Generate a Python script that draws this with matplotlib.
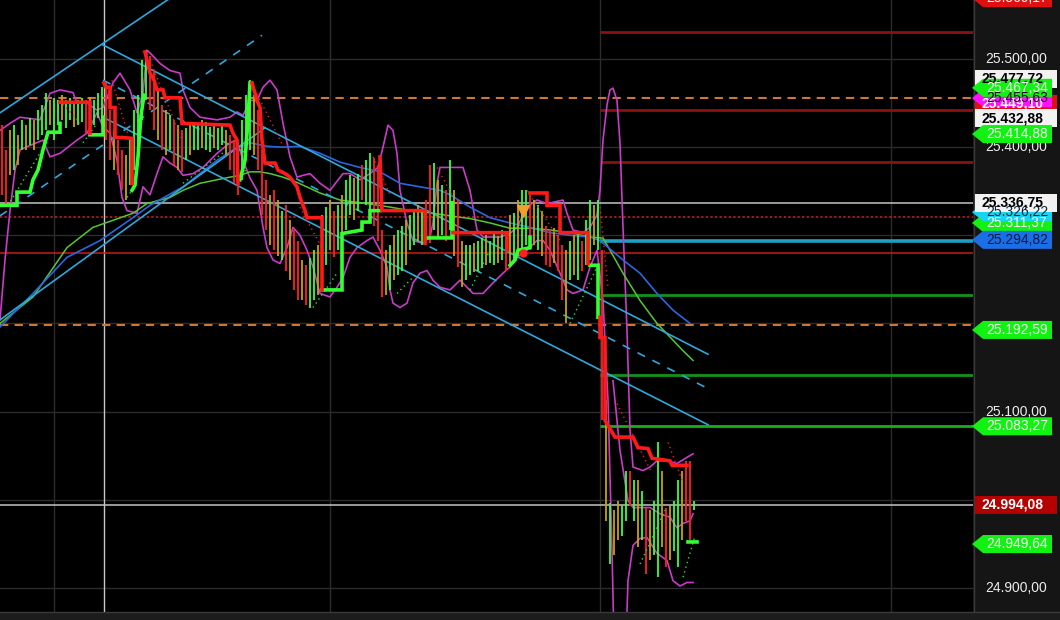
import matplotlib
matplotlib.use("Agg")
import matplotlib.pyplot as plt
import numpy as np
from matplotlib.patches import Polygon, Rectangle

# ---------------- DATA ----------------
# bars: one every 4 minutes, t = 4*i
bar_high = [25425,25397,25419,25425,25414,25431,25425,25433,25431,25442,
            25448,25461,25453,25456,25453,25459,25453,25456,25451,25453,
            25456,25453,25457,25453,25462,25468,25473,25442,25419,25408,
            25397,25391,25408,25442,25459,25499,25510,25504,25487,25465,
            25448,25442,25436,25431,25425,25419,25422,25425,25427,25425,
            25431,25428,25423,25425,25422,25425,25419,25414,25408,25397,
            25431,25459,25476,25459,25442,25397,25363,25346,25351,25340,
            25328,25334,25317,25306,25294,25272,25266,25274,25283,25289,
            25323,25332,25340,25328,25334,25346,25363,25368,25365,25370,
            25380,25385,25393,25388,25380,25306,25283,25289,25300,25306,
            25311,25317,25323,25328,25334,25328,25340,25380,25382,25363,
            25357,25351,25385,25351,25340,25294,25289,25289,25291,25294,
            25297,25300,25294,25302,25299,25306,25302,25323,25325,25340,
            25351,25351,25346,25340,25334,25328,25311,25306,25308,25300,
            25289,25283,25294,25300,25302,25294,25317,25340,25334,25340,
            25283,25113,24996,24988,24999,24993,25033,25033,25022,25022,
            25010,24991,24988,24999,25065,25033,24991,24993,24999,25022,
            25033,25044,25044,24999]
bar_low = [25346,25334,25368,25374,25380,25397,25397,25402,25397,25408,
           25414,25419,25425,25408,25425,25431,25422,25431,25423,25425,
           25428,25416,25431,25425,25433,25425,25408,25385,25374,25368,
           25351,25340,25357,25374,25397,25431,25453,25442,25419,25408,
           25397,25391,25397,25380,25374,25372,25385,25391,25397,25397,
           25399,25397,25394,25399,25397,25402,25391,25374,25359,25346,
           25363,25385,25397,25391,25374,25323,25306,25289,25283,25277,
           25272,25260,25249,25238,25226,25226,25221,25218,25226,25232,
           25255,25266,25283,25275,25283,25289,25306,25323,25317,25328,
           25340,25334,25328,25311,25294,25230,25232,25238,25249,25255,
           25260,25266,25283,25289,25294,25289,25294,25291,25306,25298,
           25300,25294,25306,25277,25264,25241,25249,25255,25258,25260,
           25263,25266,25269,25266,25269,25272,25260,25266,25272,25277,
           25283,25289,25283,25289,25283,25277,25266,25264,25269,25260,
           25226,25200,25249,25255,25249,25260,25266,25272,25289,25283,
           25090,24976,24927,24937,24954,24959,24976,24993,24976,24946,
           24954,24916,24931,24937,24912,24946,24923,24931,24942,24923,
           24954,24976,24954,24988]
bar_kind = list("rrogogogog" "ggoggoggog" "grogggrror" "rogggggrro"
                "rogrorgogg" "oggoggorrr" "gggorrroro" "grorrorggo"
                "ggorgoggog" "rggrrrogog" "goggogrrgo" "grgoroggog"
                "goggogrogo" "ggrogorror" "rogogrggog" "rogooggrgo"
                "groggorogg" "orrg")

# stepped trailing stop (red above price, green below); nan separates pieces
st_red_t = [58, 88, 88, np.nan,
            102, 104, 108, 108, 113, 113, 120, 130, 130, np.nan,
            143, 148, 152, 155, 161, 163, 178, 180, 228, 231, 235, 236, np.nan,
            250, 255, 258, 260, 263, 273, 276, 283, 288, 295, 298, 303, 305, 320, 320, np.nan,
            378, 380, 423, 423, np.nan,
            451, 505, 505, np.nan,
            528, 545, 545, 558, 558, 586, 586, np.nan,
            598, 598, 603, 603, 613, 631, 636, 646, 650, 668, 670, 685]
st_red_p = [25451, 25451, 25416, np.nan,
            25473, 25468, 25468, 25445, 25445, 25411, 25411, 25410, 25359, np.nan,
            25508, 25484, 25476, 25465, 25465, 25456, 25456, 25427, 25425, 25416, 25408, 25359, np.nan,
            25473, 25453, 25445, 25408, 25382, 25382, 25374, 25370, 25366, 25355, 25343, 25328, 25320, 25320, 25238, np.nan,
            25389, 25328, 25328, 25291, np.nan,
            25303, 25303, 25283, np.nan,
            25348, 25348, 25334, 25334, 25303, 25303, 25268, np.nan,
            25207, 25184, 25184, 25090, 25071, 25071, 25059, 25058, 25047, 25044, 25039, 25039]
st_green_t = [-2, 15, 15, 28, 31, 36, 41, 46, 58, 58, np.nan,
              88, 101, 101, np.nan,
              130, 133, 136, 139, 142, np.nan,
              238, 243, 246, 248, np.nan,
              320, 340, 340, 360, 360, 368, 368, 378, np.nan,
              426, 450, 450, np.nan,
              508, 513, 516, 528, 528, np.nan,
              588, 596, 596, np.nan,
              686, 695]
st_green_p = [25334, 25334, 25349, 25349, 25363, 25374, 25397, 25417, 25417, 25427, np.nan,
              25414, 25414, 25434, np.nan,
              25351, 25357, 25389, 25436, 25459, np.nan,
              25363, 25385, 25431, 25473, np.nan,
              25238, 25238, 25302, 25306, 25315, 25315, 25328, 25328, np.nan,
              25297, 25297, 25337, np.nan,
              25266, 25272, 25283, 25286, 25298, np.nan,
              25266, 25266, 25207, np.nan,
              24952, 24952]

# envelope bands
band_up_t = [-2, 8, 18, 38, 48, 58, 71, 75, 85, 95, 101, 111, 118, 128, 135, 141, 145, 148, 158, 168,
             178, 181, 188, 198, 215, 228, 235, 241, 248, 255, 261, 268, 275, 281, 288, 295, 301, 308,
             318, 328, 341, 348, 358, 368, 376, 381, 386, 391, 395, 398, 405, 411, 421, 428, 431, 435,
             438, 461, 468, 475, 481, 498, 508, 515, 525, 535, 545, 561, 565, 571, 581, 588, 595, 598,
             601, 605, 608, 611, 615, 618, 621, 625, 628, 631, 641, 648, 655, 665, 675, 685, 691]
band_up_p = [25419, 25427, 25434, 25431, 25461, 25465, 25462, 25450, 25450, 25442, 25445, 25473, 25484,
             25465, 25439, 25461, 25510, 25507, 25495, 25487, 25484, 25465, 25445, 25434, 25431, 25434,
             25440, 25436, 25453, 25453, 25468, 25476, 25465, 25427, 25389, 25366, 25368, 25370, 25359,
             25351, 25370, 25370, 25363, 25370, 25377, 25400, 25425, 25419, 25393, 25351, 25314, 25294,
             25291, 25298, 25314, 25359, 25377, 25377, 25351, 25306, 25298, 25298, 25302, 25309, 25332,
             25340, 25336, 25340, 25325, 25306, 25303, 25309, 25323, 25351, 25408, 25448, 25465, 25467,
             25453, 25405, 25309, 25192, 25079, 25037, 25033, 25037, 25044, 25044, 25041, 25048, 25052]
band_lo_t = [-2, 3, 8, 13, 18, 28, 41, 48, 58, 75, 85, 95, 101, 108, 115, 120, 125, 135, 141, 148, 155,
             161, 168, 175, 181, 191, 201, 215, 228, 235, 241, 248, 255, 261, 265, 271, 278, 285, 291,
             298, 305, 311, 318, 328, 335, 341, 348, 355, 365, 371, 378, 385, 388, 391, 398, 405, 411,
             418, 425, 431, 438, 448, 458, 465, 471, 481, 491, 501, 508, 515, 525, 535, 541, 548, 558,
             565, 571, 581, 588, 595, 601, 606, 610, 612, 624, 626, 631, 638, 645, 655, 665, 671, 678,
             685, 691]
band_lo_p = [25204, 25272, 25328, 25374, 25397, 25402, 25408, 25389, 25393, 25408, 25416, 25439, 25423,
             25416, 25385, 25343, 25328, 25325, 25355, 25346, 25370, 25389, 25382, 25377, 25368, 25370,
             25377, 25393, 25405, 25408, 25385, 25365, 25351, 25309, 25286, 25272, 25268, 25286, 25309,
             25300, 25283, 25264, 25234, 25230, 25241, 25252, 25275, 25286, 25294, 25298, 25283, 25264,
             25238, 25223, 25218, 25223, 25246, 25257, 25260, 25249, 25241, 25238, 25249, 25241, 25234,
             25234, 25246, 25257, 25264, 25275, 25283, 25294, 25294, 25283, 25257, 25238, 25234, 25238,
             25264, 25283, 25226, 25113, 24942, 24840, 24840, 24908, 24948, 24956, 24957, 24939, 24931,
             24908, 24902, 24906, 24906]
band_mid_t = [611, 618, 626, 631, 648, 658, 668, 675, 681, 688, 691]
band_mid_p = [25135, 25056, 24999, 24991, 24991, 24984, 24980, 24968, 24973, 24976, 24984]

# moving averages
ma_green_t = [-2, 31, 65, 91, 111, 131, 145, 168, 181, 198, 215, 228, 238, 248, 258, 268, 281, 295,
              318, 338, 365, 388, 408, 431, 448, 468, 488, 508, 528, 548, 568, 588, 598, 601, 608,
              621, 638, 655, 671, 681, 691]
ma_green_p = [25200, 25230, 25286, 25309, 25317, 25325, 25336, 25343, 25351, 25359, 25363, 25366, 25368,
              25372, 25372, 25370, 25366, 25360, 25348, 25340, 25336, 25332, 25328, 25325, 25322, 25319,
              25314, 25308, 25308, 25306, 25303, 25298, 25297, 25297, 25283, 25257, 25226, 25200, 25181,
              25169, 25158]
ma_blue_t = [-2, 31, 65, 98, 131, 148, 181, 198, 215, 231, 248, 265, 281, 298, 318, 338, 358, 378, 398,
             418, 438, 448, 468, 488, 508, 528, 548, 568, 588, 598, 621, 638, 655, 671, 688]
ma_blue_p = [25196, 25234, 25275, 25294, 25320, 25334, 25355, 25370, 25385, 25397, 25405, 25401, 25400,
             25401, 25393, 25383, 25377, 25372, 25359, 25355, 25351, 25346, 25332, 25320, 25314, 25309,
             25303, 25300, 25298, 25294, 25272, 25257, 25234, 25215, 25200]

# trailing dot runs (start/end)
sar_green_t0 = [6, 81, 125, 181, 238, 311, 395, 468, 568, 638, 681]
sar_green_p0 = [25334, 25405, 25343, 25359, 25363, 25218, 25234, 25238, 25200, 24927, 24912]
sar_green_t1 = [46, 95, 135, 225, 245, 335, 415, 488, 595, 663, 693]
sar_green_p1 = [25408, 25427, 25359, 25397, 25377, 25257, 25257, 25283, 25264, 24988, 24959]
sar_red_t0 = [58, 110, 148, 253, 298, 371, 435, 525, 598, 615, 666]
sar_red_p0 = [25453, 25476, 25499, 25465, 25332, 25389, 25377, 25351, 25332, 25109, 25065]
sar_red_t1 = [78, 126, 181, 283, 321, 388, 450, 558, 606, 650, 680]
sar_red_p1 = [25427, 25414, 25405, 25397, 25283, 25346, 25346, 25294, 25241, 25030, 25022]

# channel / trend lines
trend_t0 = [-2, -2, -2, 101, 101, 101]
trend_p0 = [25439, 25204, 25322, 25516, 25434, 25476]
trend_t1 = [168, 263, 260, 706, 706, 706]
trend_p1 = [25569, 25422, 25527, 25165, 25085, 25126]
trend_dashed = [False, False, True, False, False, True]

# horizontal levels
full_levels = [25456.0, 25336.75, 25321.0, 25280.0, 25197.8, 24994.08]
full_colors = ["#c9773a", "#c4c4c4", "#d42020", "#cc1a1a", "#c9773a", "#c4c4c4"]
full_styles = ["dash", "solid", "dot", "solid", "dash", "solid"]
part_levels = [25531.0, 25442.0, 25383.0, 25293.0, 25232.0, 25141.0, 25083.27]
part_colors = ["#8c1010", "#8c1010", "#8c1010", "#1e9fc4", "#12921a", "#12921a", "#12b21a"]
part_start = 598

grid_prices = [25500, 25400, 25300, 25200, 25100, 25000, 24900]
grid_times = [52, 328, 598, 889]
cursor_time = 102

signal_t = 521
signal_down_p = 25327
signal_dot_p = 25280

# price-axis tags: price, text, fill, text colour, shape, bold
tag_price = [25569.2, 25477.72, 25449.0, 25455.7, 25467.34, 25432.88, 25414.88, 25314.0,
             25326.22, 25336.75, 25294.82, 25192.59, 25083.27, 24994.08, 24949.64]
tag_text = ["25.569,17", "25.477,72", "25.449,10", "25.455,63", "25.467,34", "25.432,88", "25.414,88",
            "25.311,37", "25.326,22", "25.336,75", "25.294,82", "25.192,59", "25.083,27", "24.994,08",
            "24.949,64"]
tag_fill = ["#e01010", "#f2f2f2", "#e01010", "#ff10ff", "#12f212", "#f2f2f2", "#12f212", "#12f212",
            "#18d4f0", "#f2f2f2", "#1a6fe6", "#12f212", "#12f212", "#b40000", "#12f212"]
tag_tc = ["#ffffff", "#000000", "#ffffff", "#300030", "#f4fff4", "#000000", "#f4fff4", "#f4fff4",
          "#0a2a40", "#000000", "#071a45", "#f4fff4", "#f4fff4", "#ffffff", "#f4fff4"]
tag_arrow = [True, False, False, True, True, False, True, True, True, False, True, True, True, False, True]
tag_bold = [False, True, True, False, False, True, False, False, False, True, False, False, False, True, False]
# scale labels that are visible (the others sit under the tags)
axis_ticks = [25500, 25400, 25100, 24900]
axis_tick_text = ["25.500,00", "25.400,00", "25.100,00", "24.900,00"]

# ---------------- DRAW ----------------
plt.rcParams['font.family'] = ['Liberation Sans', 'DejaVu Sans']
W, H = 1060, 620
fig = plt.figure(figsize=(W / 100, H / 100), dpi=100, facecolor="#000000")
YMIN, YMAX = 24872.5, 25567.0
ax = fig.add_axes([0, 8 / H, 973 / W, 612 / H])
ax.set_facecolor("#000000")
ax.set_xlim(-2, 971)
ax.set_ylim(YMIN, YMAX)
ax.set_xticks([]); ax.set_yticks([])
for s in ax.spines.values():
    s.set_visible(False)

for p in grid_prices:
    ax.axhline(p, color="#2c2c2c", lw=1.0, zorder=0)
for t in grid_times:
    ax.axvline(t, color="#2c2c2c", lw=1.0, zorder=0)
ax.axvline(cursor_time, color="#c8c8c8", lw=1.0, zorder=1)

style_map = {"solid": "-", "dash": (0, (4, 3)), "dot": (0, (1.5, 1.5))}
for p, c, st in zip(full_levels, full_colors, full_styles):
    ax.axhline(p, color=c, lw=1.5 if st == "dash" else 1.1, linestyle=style_map[st], zorder=2)
for p, c in zip(part_levels, part_colors):
    lw = 2.6 if c == "#1e9fc4" else 2.0
    ax.hlines(p, part_start, 971, colors=c, lw=lw, zorder=2)

# magenta bands
ax.plot(band_up_t, band_up_p, color="#c83cc8", lw=1.2, zorder=3)
ax.plot(band_lo_t, band_lo_p, color="#c83cc8", lw=1.2, zorder=3)
ax.plot(band_mid_t, band_mid_p, color="#c83cc8", lw=1.2, zorder=3)

# moving averages
ax.plot(ma_green_t, ma_green_p, color="#52c832", lw=1.1, zorder=3)
ax.plot(ma_blue_t, ma_blue_p, color="#2a66e0", lw=1.2, zorder=3)

# trend lines
for t0, p0, t1, p1, d in zip(trend_t0, trend_p0, trend_t1, trend_p1, trend_dashed):
    ax.plot([t0, t1], [p0, p1], color="#2ea8dc", lw=1.2,
            linestyle=(0, (5, 5)) if d else "-", zorder=3)

# bars
kind_col = {"g": "#3cff3c", "o": "#c8a400", "r": "#ff2222"}
bar_t = np.arange(len(bar_high)) * 4
ax.vlines(bar_t, bar_low, bar_high, colors=[kind_col[k] for k in bar_kind], lw=1.3, zorder=4)

# trailing dots
for t0, p0, t1, p1 in zip(sar_green_t0, sar_green_p0, sar_green_t1, sar_green_p1):
    ax.plot([t0, t1], [p0, p1], color="#33dd33", lw=1.0, linestyle=(0, (1, 2.5)), zorder=5)
for t0, p0, t1, p1 in zip(sar_red_t0, sar_red_p0, sar_red_t1, sar_red_p1):
    ax.plot([t0, t1], [p0, p1], color="#dd2222", lw=1.0, linestyle=(0, (1, 2.5)), zorder=5)

# stepped stop line
ax.plot(st_green_t, st_green_p, color="#33ff33", lw=2.6, zorder=6, solid_joinstyle="miter")
ax.plot(st_red_t, st_red_p, color="#ff1a1a", lw=2.6, zorder=6, solid_joinstyle="miter")

ax.plot([signal_t], [signal_down_p], marker="v", ms=9, color="#f0a030", zorder=7)
ax.plot([signal_t], [signal_dot_p], marker="o", ms=5, color="#ff2020", zorder=7)

# ---------- right price axis ----------
ax2 = fig.add_axes([973 / W, 8 / H, 87 / W, 612 / H])
ax2.set_facecolor("#151515")
ax2.set_xlim(973, 1060)
ax2.set_ylim(YMIN, YMAX)
ax2.set_xticks([]); ax2.set_yticks([])
for s in ax2.spines.values():
    s.set_visible(False)
ax2.axvline(973.5, color="#3a3a3a", lw=1.0)

for p, txt in zip(axis_ticks, axis_tick_text):
    ax2.text(985, p, txt, color="#ececec", fontsize=10, va="center", ha="left", zorder=1)

ppx = (YMAX - YMIN) / 612.0
hh = 9 * ppx
for p, txt, fc, tc, arr, bd in zip(tag_price, tag_text, tag_fill, tag_tc, tag_arrow, tag_bold):
    if arr:
        verts = [(972, p), (983, p + hh), (1052, p + hh), (1052, p - hh), (983, p - hh)]
        tx = 986
    else:
        verts = [(975, p + hh), (1057, p + hh), (1057, p - hh), (975, p - hh)]
        tx = 981
    ax2.add_patch(Polygon(verts, closed=True, facecolor=fc, edgecolor="none", zorder=2, clip_on=False))
    ax2.text(tx, p, txt, color=tc, fontsize=10, fontweight="bold" if bd else "normal",
             va="center", ha="left", zorder=3, clip_on=True)

# bottom strip
fig.patches.append(Rectangle((0, 0), 1, 8 / H, transform=fig.transFigure,
                             facecolor="#1c1c1c", edgecolor="none", zorder=-1))
fig.add_artist(plt.Line2D([0, 1], [8 / H, 8 / H], transform=fig.transFigure, color="#3a3a3a", lw=1))

fig.savefig("out.png", dpi=100, facecolor=fig.get_facecolor())
